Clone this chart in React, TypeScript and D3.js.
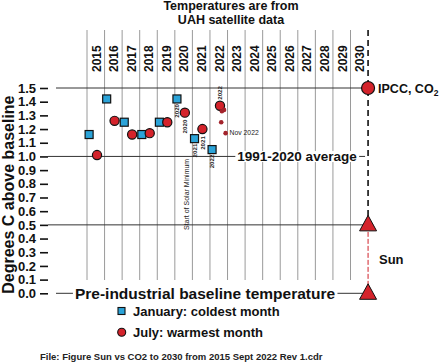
import React, { useEffect, useRef } from 'react';
import * as d3 from 'd3';

// year columns (2015..2030) and where the marks sit inside a year
const years = d3.range(2015, 2031);
const janYears = [2015, 2016, 2017, 2018, 2019, 2020, 2021, 2022];
const janValues = [1.16, 1.42, 1.25, 1.16, 1.25, 1.42, 1.13, 1.05];
const julYears = [2015, 2016, 2017, 2018, 2019, 2020, 2021, 2022];
const julValues = [1.01, 1.26, 1.16, 1.17, 1.25, 1.32, 1.20, 1.37];
// later 2022 months (small dots), decimal year + value
const extraT = [2022.68, 2022.8, 2022.64, 2022.89];
const extraV = [1.33, 1.34, 1.25, 1.17];
const extraLabel = ['', '', '', 'Nov 2022'];
const yTicks = d3.range(0, 16).map(i => i / 10);
const refLines = [
  { v: 1.5, label: '' },
  { v: 1.0, label: '1991-2020 average' },
  { v: 0.5, label: '' },
  { v: 0.0, label: 'Pre-industrial baseline temperature' },
];
const targetYear = 2031;
const ipccValue = 1.5;
const sunValues = [0.5, 0.0];

const FONT = '"Liberation Sans", Arial, sans-serif';

const Chart: React.FC = () => {
  const ref = useRef<SVGSVGElement | null>(null);

  useEffect(() => {
    const svg = d3.select(ref.current);
    svg.selectAll('*').remove();
    svg.attr('width', 441).attr('height', 362).style('font-family', FONT);
    svg.append('rect').attr('width', 441).attr('height', 362).attr('fill', 'white');

    const x = d3.scaleLinear().domain([2015, 2030]).range([87, 350.5]);
    const y = d3.scaleLinear().domain([0, 1.5]).range([293.3, 88]);

    // title
    const title = svg.append('text').attr('text-anchor', 'middle').attr('font-weight', 'bold')
      .attr('font-size', 12.5).attr('fill', '#111');
    title.append('tspan').attr('x', 231).attr('y', 10).text('Temperatures are from');
    title.append('tspan').attr('x', 231).attr('y', 23.5).text('UAH satellite data');

    // vertical year grid
    svg.append('g').selectAll('line').data(years).enter().append('line')
      .attr('x1', d => x(d)).attr('x2', d => x(d))
      .attr('y1', 30).attr('y2', 280)
      .attr('stroke', '#9a9a9a').attr('stroke-width', 1);

    // year labels
    svg.append('g').selectAll('text').data(years).enter().append('text')
      .attr('transform', d => `translate(${x(d + 0.5) + 0.5},72) rotate(-90)`)
      .attr('dy', '0.36em')
      .attr('font-size', 12).attr('font-weight', 'bold').attr('fill', '#111')
      .text(d => d);

    // y axis
    const axis = svg.append('g').attr('transform', 'translate(48,0)')
      .call(d3.axisLeft(y).tickValues(yTicks).tickFormat(d3.format('.1f')).tickSize(8).tickPadding(4));
    axis.select('.domain').remove();
    axis.selectAll('line').attr('stroke', '#111').attr('stroke-width', 1.6);
    axis.selectAll('text').attr('font-size', 13).attr('font-weight', 'bold')
      .attr('font-family', FONT).attr('fill', '#111');

    svg.append('text')
      .attr('transform', `translate(8,${(y(0) + y(1.5)) / 2 + 4}) rotate(-90)`)
      .attr('text-anchor', 'middle').attr('dy', '0.36em')
      .attr('font-size', 16).attr('font-weight', 'bold').attr('fill', '#111')
      .text('Degrees C above baseline');

    // reference lines
    const xEnd = x(targetYear);
    refLines.forEach(r => {
      const joined = r.v === 1.0 || r.v === 0.5;
      svg.append('line')
        .attr('x1', joined ? 48 : 56).attr('x2', xEnd - 3)
        .attr('y1', y(r.v)).attr('y2', y(r.v))
        .attr('stroke', '#333').attr('stroke-width', 1);
    });

    // dashed target line
    svg.append('line')
      .attr('x1', xEnd).attr('x2', xEnd).attr('y1', 30).attr('y2', y(sunValues[0]))
      .attr('stroke', '#111').attr('stroke-width', 1.6).attr('stroke-dasharray', '6,4');
    svg.append('line')
      .attr('x1', xEnd).attr('x2', xEnd).attr('y1', y(sunValues[0])).attr('y2', y(sunValues[1]))
      .attr('stroke', '#d0202a').attr('stroke-width', 1).attr('stroke-dasharray', '5,2');

    // labels breaking the reference lines
    const avg = svg.append('text').attr('x', 297).attr('y', y(1.0) + 4.6)
      .attr('text-anchor', 'middle').attr('font-size', 13.5).attr('font-weight', 'bold').attr('fill', '#111')
      .text(refLines[1].label);
    const pre = svg.append('text').attr('x', 205).attr('y', y(0) + 5.5)
      .attr('text-anchor', 'middle').attr('font-size', 15.5).attr('font-weight', 'bold').attr('fill', '#111')
      .text(refLines[3].label);
    [avg, pre].forEach(t => {
      const b = (t.node() as SVGTextElement).getBBox();
      svg.insert('rect', () => t.node() as any)
        .attr('x', b.x - 2).attr('y', b.y + 2).attr('width', b.width + 4).attr('height', b.height - 4)
        .attr('fill', 'white');
    });

    // solar minimum note
    svg.append('text')
      .attr('transform', `translate(${x(2020.55) + 2},230) rotate(-90)`)
      .attr('dy', '0.36em').attr('font-size', 7).attr('fill', '#222')
      .text('Start of Solar Minimum');

    // January squares
    const sq = 8;
    svg.append('g').selectAll('rect').data(janYears).enter().append('rect')
      .attr('x', d => x(d + 0.12) - sq / 2)
      .attr('y', (d, i) => y(janValues[i]) - sq / 2)
      .attr('width', sq).attr('height', sq)
      .attr('fill', '#2ba3d8').attr('stroke', '#111').attr('stroke-width', 1.2);

    // July circles
    svg.append('g').selectAll('circle').data(julYears).enter().append('circle')
      .attr('cx', d => x(d + 0.57)).attr('cy', (d, i) => y(julValues[i])).attr('r', 4.6)
      .attr('fill', '#d4232b').attr('stroke', '#111').attr('stroke-width', 1.2);

    // extra small dots
    svg.append('g').selectAll('circle').data(extraT).enter().append('circle')
      .attr('cx', d => x(d)).attr('cy', (d, i) => y(extraV[i])).attr('r', 2.3)
      .attr('fill', '#a3232b');
    svg.append('g').selectAll('text').data(extraT).enter().append('text')
      .attr('x', d => x(d) + 4).attr('y', (d, i) => y(extraV[i]) + 2.3)
      .attr('font-size', 6.8).attr('fill', '#222')
      .text((d, i) => extraLabel[i]);

    // small year labels next to recent points
    const small = [
      { t: 2020 + 0.12, v: janValues[5], off: 5, lbl: '2020', below: true },
      { t: 2020 + 0.57, v: julValues[5], off: 7, lbl: '2020', below: true },
      { t: 2021 + 0.12, v: janValues[6], off: 5, lbl: '2021', below: true },
      { t: 2021 + 0.57, v: julValues[6], off: 7, lbl: '2021', below: true },
      { t: 2022 + 0.12, v: janValues[7], off: 5, lbl: '2022', below: true },
      { t: 2022 + 0.57, v: julValues[7], off: 6, lbl: '2022', below: false },
    ];
    svg.append('g').selectAll('text').data(small).enter().append('text')
      .attr('transform', d => `translate(${x(d.t)},${d.below ? y(d.v) + d.off : y(d.v) - d.off}) rotate(-90)`)
      .attr('text-anchor', d => d.below ? 'end' : 'start')
      .attr('dy', '0.36em').attr('font-size', 6.2).attr('font-weight', 'bold').attr('fill', '#222')
      .text(d => d.lbl);

    // IPCC target
    svg.append('circle').attr('cx', xEnd).attr('cy', y(ipccValue)).attr('r', 6.5)
      .attr('fill', '#d4232b').attr('stroke', '#111').attr('stroke-width', 1.2);
    const ipcc = svg.append('text').attr('x', xEnd + 10).attr('y', y(ipccValue) + 4.6)
      .attr('font-size', 12.5).attr('font-weight', 'bold').attr('fill', '#111');
    ipcc.append('tspan').text('IPCC, CO');
    ipcc.append('tspan').attr('font-size', 8.5).attr('dy', 3).text('2');

    // sun triangles
    svg.append('g').selectAll('path').data(sunValues).enter().append('path')
      .attr('d', d => {
        const cy = y(d);
        return `M${xEnd},${cy - 9.5} L${xEnd + 8.5},${cy + 6} L${xEnd - 8.5},${cy + 6} Z`;
      })
      .attr('fill', '#d4232b').attr('stroke', '#111').attr('stroke-width', 1);
    svg.append('text').attr('x', 379).attr('y', (y(sunValues[0]) + y(sunValues[1])) / 2 + 5)
      .attr('font-size', 13).attr('font-weight', 'bold').attr('fill', '#111').text('Sun');

    // legend
    svg.append('rect').attr('x', 118).attr('y', 307.5).attr('width', 7).attr('height', 7)
      .attr('fill', '#2ba3d8').attr('stroke', '#111').attr('stroke-width', 1.1);
    svg.append('text').attr('x', 133).attr('y', 316).attr('font-size', 13).attr('font-weight', 'bold')
      .attr('fill', '#111').text('January: coldest month');
    svg.append('circle').attr('cx', 121.7).attr('cy', 332.3).attr('r', 4)
      .attr('fill', '#d4232b').attr('stroke', '#111').attr('stroke-width', 1.1);
    svg.append('text').attr('x', 133).attr('y', 337).attr('font-size', 13).attr('font-weight', 'bold')
      .attr('fill', '#111').text('July: warmest month');

    // footer
    svg.append('text').attr('x', 40).attr('y', 360).attr('font-size', 9.5).attr('font-weight', 'bold')
      .attr('fill', '#222').text('File: Figure Sun vs CO2 to 2030 from 2015 Sept 2022 Rev 1.cdr');
  }, []);

  return <svg ref={ref} style={{ position: 'absolute', left: 0, top: 0 }}></svg>;
};

export default function App() {
  return <Chart />;
}
